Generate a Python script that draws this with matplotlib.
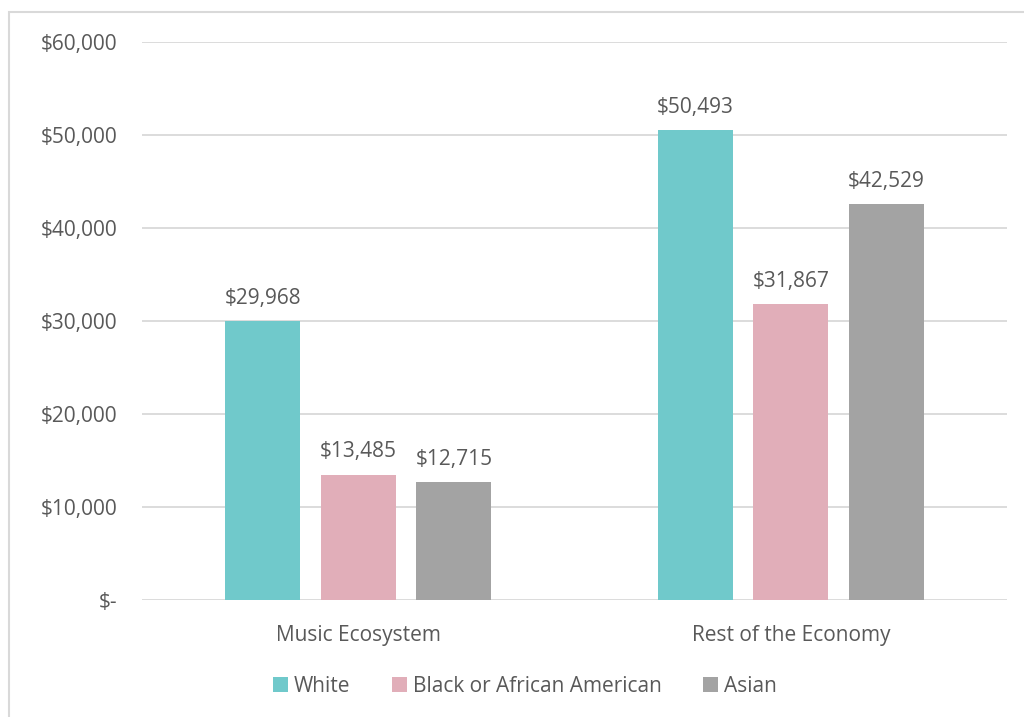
import numpy as np
import matplotlib.pyplot as plt
from matplotlib.patches import Rectangle
from matplotlib.ticker import FuncFormatter

# values
categories = ["Music Ecosystem", "Rest of the Economy"]
series = ["White", "Black or African American", "Asian"]
white = [29968, 50493]
black = [13485, 31867]
asian = [12715, 42529]
colors = ["#70C9CB", "#E1AEB9", "#A3A3A3"]

plt.rcParams['font.family'] = ['Open Sans', 'DejaVu Sans']
txt = "#595959"
fs = 15

fig = plt.figure(figsize=(10.24, 7.17), dpi=100)
ax = fig.add_axes([142 / 1024, 1 - 600 / 717, 865 / 1024, 558 / 717])

# light frame round the chart (only top and left show in the reference)
fig.patches.append(Rectangle((9 / 1024, -0.05), 1.2, 1 - 12 / 717 + 0.05,
                             transform=fig.transFigure, fill=False,
                             edgecolor="#D9D9D9", linewidth=1.5))

x = np.arange(len(categories))
width = 0.174
step = 0.221
for i, (name, vals) in enumerate(zip(series, [white, black, asian])):
    bars = ax.bar(x + (i - 1) * step, vals, width, color=colors[i], label=name)
    for b, v in zip(bars, vals):
        ax.text(b.get_x() + b.get_width() / 2, v + 1300, "${:,}".format(v),
                ha="center", va="bottom", fontsize=fs, color=txt)

ax.set_xlim(-0.5, 1.5)
ax.set_ylim(0, 60000)
ax.set_yticks(np.arange(0, 60001, 10000))
ax.yaxis.set_major_formatter(FuncFormatter(
    lambda v, p: "$-" if v == 0 else "${:,.0f}".format(v)))
ax.set_xticks(x)
ax.set_xticklabels(categories)
ax.tick_params(axis="both", length=0, labelsize=fs, labelcolor=txt)
ax.tick_params(axis="y", pad=18)
ax.tick_params(axis="x", pad=18)
ax.grid(axis="y", color="#D9D9D9", linewidth=1.3)
ax.set_axisbelow(True)
for s in ax.spines.values():
    s.set_visible(False)

leg = fig.legend(loc="center", bbox_to_anchor=(525 / 1024, 1 - 686 / 717), ncol=3,
                 frameon=False, fontsize=fs, handlelength=0.7, handleheight=0.7,
                 handletextpad=0.3, columnspacing=2.0)
for t in leg.get_texts():
    t.set_color(txt)

fig.savefig("out.png", dpi=100)
